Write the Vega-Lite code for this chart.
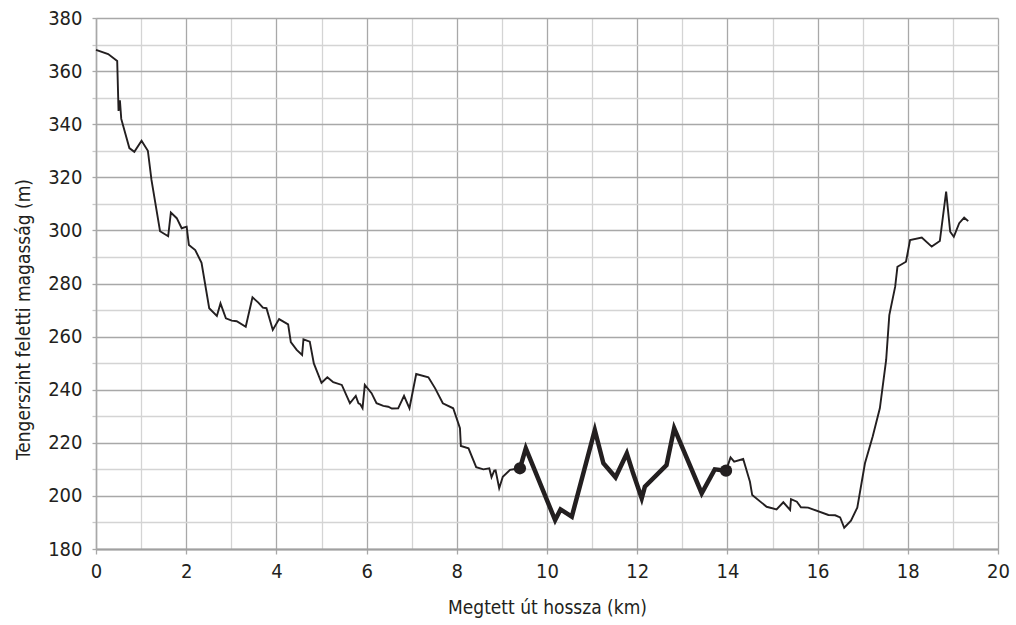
{
  "$schema": "https://vega.github.io/schema/vega-lite/v6.json",
  "width": 902,
  "height": 531,
  "autosize": {"type": "none"},
  "padding": {"left": 96, "top": 18, "right": 18, "bottom": 76},
  "background": "white",
  "config": {
    "view": {"stroke": null},
    "font": "'DejaVu Sans Condensed', 'Liberation Sans', sans-serif"
  },
  "data": {
    "values": [
      {"tav": 0.0, "mag": 368, "kiemelt": 0, "pont": 0},
      {"tav": 0.27, "mag": 366.4, "kiemelt": 0, "pont": 0},
      {"tav": 0.47, "mag": 363.8, "kiemelt": 0, "pont": 0},
      {"tav": 0.5, "mag": 345, "kiemelt": 0, "pont": 0},
      {"tav": 0.53, "mag": 349, "kiemelt": 0, "pont": 0},
      {"tav": 0.56, "mag": 342, "kiemelt": 0, "pont": 0},
      {"tav": 0.74, "mag": 331, "kiemelt": 0, "pont": 0},
      {"tav": 0.85, "mag": 329.6, "kiemelt": 0, "pont": 0},
      {"tav": 1.01, "mag": 333.8, "kiemelt": 0, "pont": 0},
      {"tav": 1.15, "mag": 330, "kiemelt": 0, "pont": 0},
      {"tav": 1.23, "mag": 319, "kiemelt": 0, "pont": 0},
      {"tav": 1.42, "mag": 299.7, "kiemelt": 0, "pont": 0},
      {"tav": 1.6, "mag": 297.8, "kiemelt": 0, "pont": 0},
      {"tav": 1.66, "mag": 306.7, "kiemelt": 0, "pont": 0},
      {"tav": 1.79, "mag": 304.6, "kiemelt": 0, "pont": 0},
      {"tav": 1.9, "mag": 300.8, "kiemelt": 0, "pont": 0},
      {"tav": 2.01, "mag": 301.4, "kiemelt": 0, "pont": 0},
      {"tav": 2.06, "mag": 294.5, "kiemelt": 0, "pont": 0},
      {"tav": 2.2, "mag": 292.6, "kiemelt": 0, "pont": 0},
      {"tav": 2.34, "mag": 287.8, "kiemelt": 0, "pont": 0},
      {"tav": 2.51, "mag": 270.7, "kiemelt": 0, "pont": 0},
      {"tav": 2.68, "mag": 267.8, "kiemelt": 0, "pont": 0},
      {"tav": 2.76, "mag": 272.5, "kiemelt": 0, "pont": 0},
      {"tav": 2.88, "mag": 266.9, "kiemelt": 0, "pont": 0},
      {"tav": 3.01, "mag": 266, "kiemelt": 0, "pont": 0},
      {"tav": 3.12, "mag": 265.8, "kiemelt": 0, "pont": 0},
      {"tav": 3.32, "mag": 263.7, "kiemelt": 0, "pont": 0},
      {"tav": 3.47, "mag": 274.8, "kiemelt": 0, "pont": 0},
      {"tav": 3.6, "mag": 272.8, "kiemelt": 0, "pont": 0},
      {"tav": 3.7, "mag": 270.9, "kiemelt": 0, "pont": 0},
      {"tav": 3.78, "mag": 270.7, "kiemelt": 0, "pont": 0},
      {"tav": 3.92, "mag": 262.5, "kiemelt": 0, "pont": 0},
      {"tav": 4.06, "mag": 266.6, "kiemelt": 0, "pont": 0},
      {"tav": 4.26, "mag": 264.6, "kiemelt": 0, "pont": 0},
      {"tav": 4.32, "mag": 257.9, "kiemelt": 0, "pont": 0},
      {"tav": 4.45, "mag": 255, "kiemelt": 0, "pont": 0},
      {"tav": 4.57, "mag": 253.1, "kiemelt": 0, "pont": 0},
      {"tav": 4.6, "mag": 259, "kiemelt": 0, "pont": 0},
      {"tav": 4.74, "mag": 258.1, "kiemelt": 0, "pont": 0},
      {"tav": 4.83, "mag": 249.9, "kiemelt": 0, "pont": 0},
      {"tav": 5.0, "mag": 242.6, "kiemelt": 0, "pont": 0},
      {"tav": 5.13, "mag": 244.7, "kiemelt": 0, "pont": 0},
      {"tav": 5.26, "mag": 242.8, "kiemelt": 0, "pont": 0},
      {"tav": 5.45, "mag": 241.8, "kiemelt": 0, "pont": 0},
      {"tav": 5.63, "mag": 234.9, "kiemelt": 0, "pont": 0},
      {"tav": 5.76, "mag": 237.7, "kiemelt": 0, "pont": 0},
      {"tav": 5.82, "mag": 234.9, "kiemelt": 0, "pont": 0},
      {"tav": 5.86, "mag": 234.5, "kiemelt": 0, "pont": 0},
      {"tav": 5.91, "mag": 233, "kiemelt": 0, "pont": 0},
      {"tav": 5.96, "mag": 241.8, "kiemelt": 0, "pont": 0},
      {"tav": 6.11, "mag": 238.7, "kiemelt": 0, "pont": 0},
      {"tav": 6.22, "mag": 234.9, "kiemelt": 0, "pont": 0},
      {"tav": 6.37, "mag": 233.9, "kiemelt": 0, "pont": 0},
      {"tav": 6.48, "mag": 233.6, "kiemelt": 0, "pont": 0},
      {"tav": 6.56, "mag": 232.9, "kiemelt": 0, "pont": 0},
      {"tav": 6.7, "mag": 233, "kiemelt": 0, "pont": 0},
      {"tav": 6.83, "mag": 237.7, "kiemelt": 0, "pont": 0},
      {"tav": 6.95, "mag": 233, "kiemelt": 0, "pont": 0},
      {"tav": 7.1, "mag": 245.9, "kiemelt": 0, "pont": 0},
      {"tav": 7.37, "mag": 244.7, "kiemelt": 0, "pont": 0},
      {"tav": 7.52, "mag": 240.5, "kiemelt": 0, "pont": 0},
      {"tav": 7.69, "mag": 234.9, "kiemelt": 0, "pont": 0},
      {"tav": 7.92, "mag": 233, "kiemelt": 0, "pont": 0},
      {"tav": 8.07, "mag": 225.5, "kiemelt": 0, "pont": 0},
      {"tav": 8.09, "mag": 218.8, "kiemelt": 0, "pont": 0},
      {"tav": 8.26, "mag": 217.9, "kiemelt": 0, "pont": 0},
      {"tav": 8.43, "mag": 210.8, "kiemelt": 0, "pont": 0},
      {"tav": 8.59, "mag": 210, "kiemelt": 0, "pont": 0},
      {"tav": 8.72, "mag": 210.4, "kiemelt": 0, "pont": 0},
      {"tav": 8.77, "mag": 207, "kiemelt": 0, "pont": 0},
      {"tav": 8.83, "mag": 209.5, "kiemelt": 0, "pont": 0},
      {"tav": 8.86, "mag": 209.6, "kiemelt": 0, "pont": 0},
      {"tav": 8.94, "mag": 202.9, "kiemelt": 0, "pont": 0},
      {"tav": 9.02, "mag": 207.2, "kiemelt": 0, "pont": 0},
      {"tav": 9.18, "mag": 209.8, "kiemelt": 0, "pont": 0},
      {"tav": 9.4, "mag": 210.4, "kiemelt": 1, "pont": 1},
      {"tav": 9.53, "mag": 217.9, "kiemelt": 1, "pont": 0},
      {"tav": 10.18, "mag": 190.9, "kiemelt": 1, "pont": 0},
      {"tav": 10.3, "mag": 194.9, "kiemelt": 1, "pont": 0},
      {"tav": 10.55, "mag": 192.2, "kiemelt": 1, "pont": 0},
      {"tav": 11.06, "mag": 224.8, "kiemelt": 1, "pont": 0},
      {"tav": 11.25, "mag": 212.3, "kiemelt": 1, "pont": 0},
      {"tav": 11.52, "mag": 207, "kiemelt": 1, "pont": 0},
      {"tav": 11.77, "mag": 216, "kiemelt": 1, "pont": 0},
      {"tav": 11.91, "mag": 208.5, "kiemelt": 1, "pont": 0},
      {"tav": 12.1, "mag": 199.1, "kiemelt": 1, "pont": 0},
      {"tav": 12.17, "mag": 203.5, "kiemelt": 1, "pont": 0},
      {"tav": 12.65, "mag": 211.6, "kiemelt": 1, "pont": 0},
      {"tav": 12.82, "mag": 225.5, "kiemelt": 1, "pont": 0},
      {"tav": 13.43, "mag": 201, "kiemelt": 1, "pont": 0},
      {"tav": 13.72, "mag": 210, "kiemelt": 1, "pont": 0},
      {"tav": 13.97, "mag": 209.5, "kiemelt": 1, "pont": 1},
      {"tav": 14.07, "mag": 214.5, "kiemelt": 0, "pont": 0},
      {"tav": 14.15, "mag": 212.9, "kiemelt": 0, "pont": 0},
      {"tav": 14.35, "mag": 213.9, "kiemelt": 0, "pont": 0},
      {"tav": 14.5, "mag": 205.3, "kiemelt": 0, "pont": 0},
      {"tav": 14.55, "mag": 200.3, "kiemelt": 0, "pont": 0},
      {"tav": 14.87, "mag": 195.9, "kiemelt": 0, "pont": 0},
      {"tav": 15.09, "mag": 194.9, "kiemelt": 0, "pont": 0},
      {"tav": 15.24, "mag": 197.6, "kiemelt": 0, "pont": 0},
      {"tav": 15.39, "mag": 194.7, "kiemelt": 0, "pont": 0},
      {"tav": 15.41, "mag": 198.8, "kiemelt": 0, "pont": 0},
      {"tav": 15.54, "mag": 197.8, "kiemelt": 0, "pont": 0},
      {"tav": 15.63, "mag": 195.7, "kiemelt": 0, "pont": 0},
      {"tav": 15.79, "mag": 195.6, "kiemelt": 0, "pont": 0},
      {"tav": 16.24, "mag": 192.8, "kiemelt": 0, "pont": 0},
      {"tav": 16.39, "mag": 192.7, "kiemelt": 0, "pont": 0},
      {"tav": 16.5, "mag": 191.9, "kiemelt": 0, "pont": 0},
      {"tav": 16.59, "mag": 188, "kiemelt": 0, "pont": 0},
      {"tav": 16.74, "mag": 190.7, "kiemelt": 0, "pont": 0},
      {"tav": 16.88, "mag": 195.6, "kiemelt": 0, "pont": 0},
      {"tav": 17.05, "mag": 212.3, "kiemelt": 0, "pont": 0},
      {"tav": 17.22, "mag": 222.3, "kiemelt": 0, "pont": 0},
      {"tav": 17.38, "mag": 233, "kiemelt": 0, "pont": 0},
      {"tav": 17.52, "mag": 251.2, "kiemelt": 0, "pont": 0},
      {"tav": 17.59, "mag": 268.1, "kiemelt": 0, "pont": 0},
      {"tav": 17.72, "mag": 278.8, "kiemelt": 0, "pont": 0},
      {"tav": 17.77, "mag": 286.3, "kiemelt": 0, "pont": 0},
      {"tav": 17.96, "mag": 288.2, "kiemelt": 0, "pont": 0},
      {"tav": 18.05, "mag": 296.4, "kiemelt": 0, "pont": 0},
      {"tav": 18.31, "mag": 297.3, "kiemelt": 0, "pont": 0},
      {"tav": 18.53, "mag": 293.9, "kiemelt": 0, "pont": 0},
      {"tav": 18.71, "mag": 296, "kiemelt": 0, "pont": 0},
      {"tav": 18.85, "mag": 314.6, "kiemelt": 0, "pont": 0},
      {"tav": 18.94, "mag": 299.5, "kiemelt": 0, "pont": 0},
      {"tav": 19.02, "mag": 297.6, "kiemelt": 0, "pont": 0},
      {"tav": 19.14, "mag": 302.7, "kiemelt": 0, "pont": 0},
      {"tav": 19.25, "mag": 304.8, "kiemelt": 0, "pont": 0},
      {"tav": 19.34, "mag": 303.5, "kiemelt": 0, "pont": 0}
    ]
  },
  "encoding": {
    "x": {
      "field": "tav",
      "type": "quantitative",
      "scale": {"domain": [0, 20], "nice": false, "zero": false},
      "axis": {
        "title": "Megtett út hossza (km)",
        "values": [0,1,2,3,4,5,6,7,8,9,10,11,12,13,14,15,16,17,18,19,20],
        "labelExpr": "datum.value % 2 === 0 ? datum.label : ''",
        "grid": true,
        "gridColor": {"condition": {"test": "datum.value % 2 === 0", "value": "#a8a8a8"}, "value": "#d4d4d4"},
        "gridWidth": 1.3,
        "domainColor": "#a0a0a0",
        "domainWidth": 2,
        "tickColor": "#a8a8a8",
        "tickOpacity": {"condition": {"test": "datum.value % 2 === 0", "value": 1}, "value": 0},
        "tickSize": 5,
        "tickWidth": 1.3,
        "labelFontSize": 20,
        "labelColor": "#231f20",
        "labelPadding": 7,
        "labelFlush": false,
        "titleFontSize": 19,
        "titleFontWeight": "normal",
        "titleColor": "#231f20",
        "titlePadding": 17
      }
    },
    "y": {
      "field": "mag",
      "type": "quantitative",
      "scale": {"domain": [180, 380], "nice": false, "zero": false},
      "axis": {
        "title": "Tengerszint feletti magasság (m)",
        "values": [180,190,200,210,220,230,240,250,260,270,280,290,300,310,320,330,340,350,360,370,380],
        "labelExpr": "datum.value % 20 === 0 ? datum.label : ''",
        "grid": true,
        "gridColor": {"condition": {"test": "datum.value % 20 === 0", "value": "#a8a8a8"}, "value": "#d4d4d4"},
        "gridWidth": 1.3,
        "domainColor": "#a8a8a8",
        "domainWidth": 1.5,
        "tickColor": {"condition": {"test": "datum.value % 20 === 0", "value": "#a8a8a8"}, "value": "#c8c8c8"},
        "tickSize": 4,
        "tickWidth": 1.3,
        "labelFontSize": 20,
        "labelColor": "#231f20",
        "labelPadding": 10,
        "labelFlush": false,
        "titleFontSize": 19,
        "titleFontWeight": "normal",
        "titleColor": "#231f20",
        "titlePadding": 14,
        "titleY": 301
      }
    }
  },
  "layer": [
    {
      "mark": {"type": "line", "color": "#231f20", "strokeWidth": 1.9, "strokeJoin": "miter"}
    },
    {
      "transform": [{"filter": "datum.kiemelt === 1"}],
      "mark": {"type": "line", "color": "#231f20", "strokeWidth": 4.5, "strokeJoin": "miter"}
    },
    {
      "transform": [{"filter": "datum.pont === 1"}],
      "mark": {"type": "point", "filled": true, "color": "#231f20", "opacity": 1, "size": 150}
    }
  ]
}
